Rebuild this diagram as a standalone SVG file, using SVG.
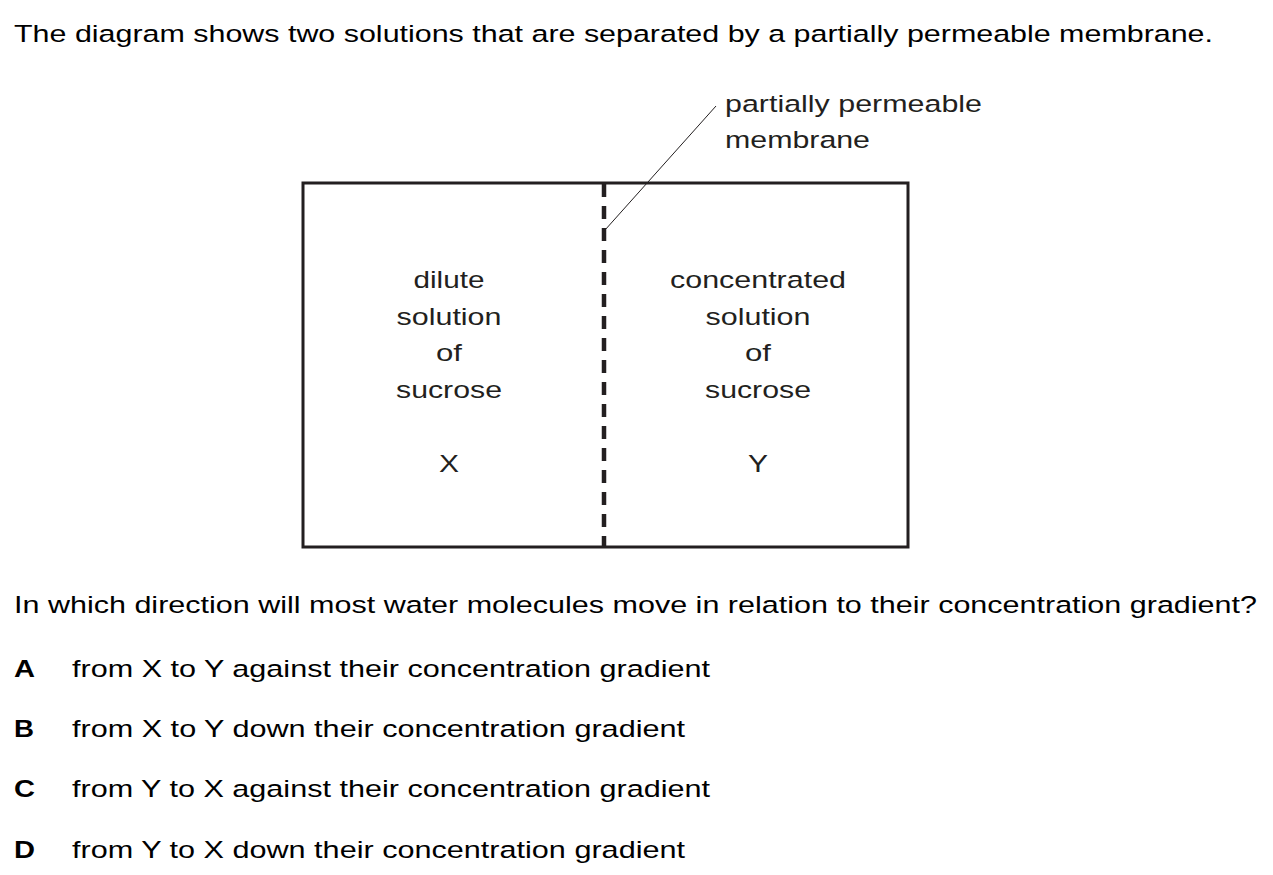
<svg xmlns="http://www.w3.org/2000/svg" width="1273" height="875" viewBox="0 0 1273 875">
<style>
  text { font-family: "Liberation Sans", Arial, sans-serif; font-size: 24.5px; fill: #000; }
  .lbl { fill: #231f20; text-anchor: middle; }
  .side { fill: #231f20; }
  .opt { font-weight: bold; }
  .box { fill: none; stroke: #231f20; stroke-width: 3; }
  .mem { stroke: #231f20; stroke-width: 4.5; stroke-dasharray: 13 9; fill: none; }
  .lead { stroke: #231f20; stroke-width: 1; fill: none; }
</style>
<rect width="1273" height="875" fill="#fff"/>
<text x="14" y="42" textLength="1199" lengthAdjust="spacingAndGlyphs">The diagram shows two solutions that are separated by a partially permeable membrane.</text>

<g id="container">
  <rect class="box" x="303" y="183" width="605" height="364"/>
</g>
<g id="membrane">
  <line class="mem" x1="604" y1="184" x2="604" y2="546"/>
</g>
<g id="connectors">
  <line class="lead" x1="605" y1="230" x2="716" y2="106"/>
</g>
<g id="membrane-label">
  <text class="side" x="725" y="112" textLength="257" lengthAdjust="spacingAndGlyphs">partially permeable</text>
  <text class="side" x="725" y="148" textLength="145" lengthAdjust="spacingAndGlyphs">membrane</text>
</g>
<g id="solution-x">
  <text class="lbl" x="449" y="288" textLength="71" lengthAdjust="spacingAndGlyphs">dilute</text>
  <text class="lbl" x="449" y="325" textLength="105" lengthAdjust="spacingAndGlyphs">solution</text>
  <text class="lbl" x="449" y="361" textLength="26" lengthAdjust="spacingAndGlyphs">of</text>
  <text class="lbl" x="449" y="398" textLength="106" lengthAdjust="spacingAndGlyphs">sucrose</text>
  <text class="lbl" x="449" y="472" textLength="20" lengthAdjust="spacingAndGlyphs">X</text>
</g>
<g id="solution-y">
  <text class="lbl" x="758" y="288" textLength="176" lengthAdjust="spacingAndGlyphs">concentrated</text>
  <text class="lbl" x="758" y="325" textLength="105" lengthAdjust="spacingAndGlyphs">solution</text>
  <text class="lbl" x="758" y="361" textLength="26" lengthAdjust="spacingAndGlyphs">of</text>
  <text class="lbl" x="758" y="398" textLength="106" lengthAdjust="spacingAndGlyphs">sucrose</text>
  <text class="lbl" x="758" y="472" textLength="20" lengthAdjust="spacingAndGlyphs">Y</text>
</g>

<text x="14" y="613" textLength="1243" lengthAdjust="spacingAndGlyphs">In which direction will most water molecules move in relation to their concentration gradient?</text>
<text class="opt" x="14" y="677" textLength="21" lengthAdjust="spacingAndGlyphs">A</text>
<text x="72" y="677" textLength="638" lengthAdjust="spacingAndGlyphs">from X to Y against their concentration gradient</text>
<text class="opt" x="14" y="737" textLength="20" lengthAdjust="spacingAndGlyphs">B</text>
<text x="72" y="737" textLength="613" lengthAdjust="spacingAndGlyphs">from X to Y down their concentration gradient</text>
<text class="opt" x="14" y="797" textLength="21" lengthAdjust="spacingAndGlyphs">C</text>
<text x="72" y="797" textLength="638" lengthAdjust="spacingAndGlyphs">from Y to X against their concentration gradient</text>
<text class="opt" x="14" y="858" textLength="21" lengthAdjust="spacingAndGlyphs">D</text>
<text x="72" y="858" textLength="613" lengthAdjust="spacingAndGlyphs">from Y to X down their concentration gradient</text>
</svg>
